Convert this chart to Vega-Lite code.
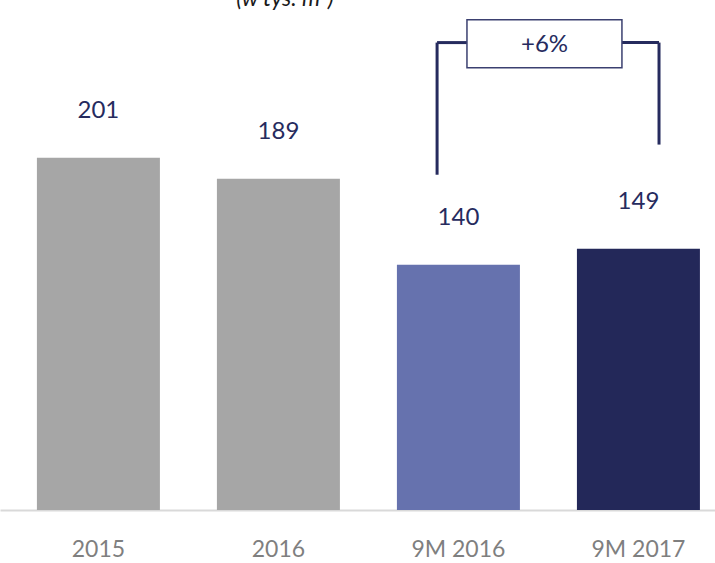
{
  "$schema": "https://vega.github.io/schema/vega-lite/v6.json",
  "width": 715,
  "height": 510,
  "padding": {"top": 0, "left": 0, "right": 0, "bottom": 53},
  "autosize": {"type": "none"},
  "background": "white",
  "config": {"view": {"stroke": null}},
  "datasets": {
    "bars": [
      {"category": "2015", "value": 201},
      {"category": "2016", "value": 189},
      {"category": "9M 2016", "value": 140},
      {"category": "9M 2017", "value": 149}
    ],
    "rules": [
      {"x": 1.881, "x2": 2.047, "y": 266.7, "y2": 266.7},
      {"x": 2.908, "x2": 3.114, "y": 266.7, "y2": 266.7},
      {"x": 1.881, "x2": 1.881, "y": 191.3, "y2": 266.7},
      {"x": 3.114, "x2": 3.114, "y": 208.5, "y2": 266.7}
    ],
    "box": [{"x": 2.047, "x2": 2.908, "y": 252.4, "y2": 279.8, "label": "+6%", "xm": 2.478, "ym": 265.6}],
    "title": [{"x": 1.036, "y": 287.8, "label": "(w tys. m²)"}]
  },
  "resolve": {"scale": {"x": "independent"}},
  "layer": [
    {
      "data": {"name": "bars"},
      "layer": [
        {
          "mark": {"type": "bar"},
          "encoding": {
            "x": {
              "field": "category", "type": "nominal", "sort": null,
              "scale": {"paddingInner": 0.3167, "paddingOuter": 0.1444, "align": 0.71},
              "axis": {
                "title": null, "labelAngle": 0, "ticks": false,
                "domainColor": "#d9d9d9", "domainWidth": 2,
                "labelFont": "Lato", "labelFontSize": 23,
                "labelColor": "#7f7f7f", "labelPadding": 28
              }
            },
            "y": {"field": "value", "type": "quantitative", "scale": {"domain": [0, 291], "nice": false, "zero": true}, "axis": null},
            "color": {
              "field": "category", "type": "nominal", "legend": null,
              "scale": {"domain": ["2015", "2016", "9M 2016", "9M 2017"], "range": ["#a6a6a6", "#a6a6a6", "#6672ae", "#232859"]}
            }
          }
        },
        {
          "mark": {"type": "text", "dy": -47, "font": "Lato", "fontSize": 24, "color": "#262b5e", "baseline": "middle"},
          "encoding": {
            "x": {"field": "category", "type": "nominal", "sort": null},
            "y": {"field": "value", "type": "quantitative"},
            "text": {"field": "value", "type": "quantitative"}
          }
        }
      ]
    },
    {
      "data": {"name": "rules"},
      "mark": {"type": "rule", "color": "#262b5e", "strokeWidth": 3},
      "encoding": {
        "x": {"field": "x", "type": "quantitative", "scale": {"domain": [-0.5472, 3.425], "nice": false, "zero": false}, "axis": null},
        "x2": {"field": "x2"},
        "y": {"field": "y", "type": "quantitative"},
        "y2": {"field": "y2"}
      }
    },
    {
      "data": {"name": "box"},
      "layer": [
        {
          "mark": {"type": "rect", "fill": "white", "stroke": "#3b4070", "strokeWidth": 1.5},
          "encoding": {
            "x": {"field": "x", "type": "quantitative", "scale": {"domain": [-0.5472, 3.425], "nice": false, "zero": false}, "axis": null},
            "x2": {"field": "x2"},
            "y": {"field": "y", "type": "quantitative"},
            "y2": {"field": "y2"}
          }
        },
        {
          "mark": {"type": "text", "font": "Lato", "fontSize": 24, "color": "#262b5e", "baseline": "middle"},
          "encoding": {
            "x": {"field": "xm", "type": "quantitative", "scale": {"domain": [-0.5472, 3.425], "nice": false, "zero": false}, "axis": null},
            "y": {"field": "ym", "type": "quantitative"},
            "text": {"field": "label"}
          }
        }
      ]
    },
    {
      "data": {"name": "title"},
      "mark": {"type": "text", "font": "Lato", "fontSize": 23, "fontStyle": "italic", "color": "#1a1a1a", "baseline": "alphabetic"},
      "encoding": {
        "x": {"field": "x", "type": "quantitative", "scale": {"domain": [-0.5472, 3.425], "nice": false, "zero": false}, "axis": null},
        "y": {"field": "y", "type": "quantitative"},
        "text": {"field": "label"}
      }
    }
  ]
}
